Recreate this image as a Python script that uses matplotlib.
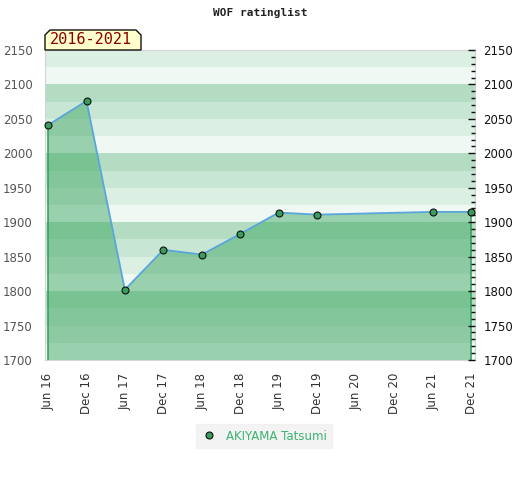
import datetime as dt
import matplotlib
matplotlib.use("Agg")
import matplotlib.pyplot as plt
import matplotlib.dates as mdates
from matplotlib.patches import Polygon
from matplotlib.lines import Line2D
from matplotlib.ticker import MultipleLocator

# data
dates = [dt.date(2016, 6, 1), dt.date(2016, 12, 1), dt.date(2017, 6, 1), dt.date(2017, 12, 1),
         dt.date(2018, 6, 1), dt.date(2018, 12, 1), dt.date(2019, 6, 1), dt.date(2019, 12, 1),
         dt.date(2021, 6, 1), dt.date(2021, 12, 1)]
ratings = [2041, 2076, 1802, 1860, 1853, 1883, 1914, 1911, 1915, 1915]
tick_dates = [dt.date(2016 + i // 2, 6 if i % 2 == 0 else 12, 1) for i in range(12)]
tick_labels = [d.strftime("%b %y") for d in tick_dates]
player = "AKIYAMA Tatsumi"
period = "2016-2021"
y_min, y_max = 1700, 2150

bg_cols = ["#eff8f2", "#dcefe3", "#c8e6d4", "#b3dcc3"]   # lowest quarter -> top quarter of each 100
fill_cols = ["#99d0ad", "#8dcaa4", "#83c69b", "#79c292"]

fig = plt.figure(figsize=(5.2, 4.8), dpi=100)
ax = fig.add_axes([45 / 520, 120 / 480, 430 / 520, 310 / 480])

x = mdates.date2num(dates)
ax.set_xlim(x[0] - 14, x[-1] + 18)
ax.set_ylim(y_min, y_max)

# banded background, darker bands under the rating line
verts = [(x[0], y_min)] + list(zip(x, ratings)) + [(x[-1], y_min)]
area = Polygon(verts, closed=True, facecolor="none", edgecolor="none")
ax.add_patch(area)
for lo in range(y_min, y_max, 25):
    q = (lo % 100) // 25
    ax.axhspan(lo, lo + 25, color=bg_cols[q], lw=0, zorder=0)
    band = ax.axhspan(lo, lo + 25, color=fill_cols[q], lw=0, zorder=1)
    band.set_clip_path(area)

ax.vlines([x[0], x[-1]], y_min, [ratings[0], ratings[-1]], color="#2ea05a", lw=1.1, zorder=2)
ax.plot(x, ratings, color="#5aa5dc", lw=1.3, zorder=3)
ax.plot(x, ratings, ls="none", marker="o", ms=5, mfc="#3a9b5c", mec="#111111", mew=0.8,
        zorder=4, clip_on=False)

for s in ["left", "bottom", "top", "right"]:
    ax.spines[s].set_color("#d4d4d4")

ax.set_xticks(mdates.date2num(tick_dates))
ax.set_xticklabels(tick_labels, rotation=90, fontsize=8.5, color="#333333")
ax.tick_params(axis="x", length=0, pad=9)
ax.yaxis.set_major_locator(MultipleLocator(50))
ax.tick_params(axis="y", length=0, labelsize=8.5, labelcolor="#555555", pad=9)

ax2 = ax.twinx()
ax2.set_ylim(y_min, y_max)
ax2.yaxis.set_major_locator(MultipleLocator(50))
ax2.yaxis.set_minor_locator(MultipleLocator(10))
ax2.tick_params(axis="y", which="major", direction="in", length=5, width=1, color="#111111",
                labelsize=8.5, labelcolor="#111111", pad=6)
ax2.tick_params(axis="y", which="minor", direction="in", length=3, width=1, color="#111111")
for s in ["left", "bottom", "top", "right"]:
    ax2.spines[s].set_visible(False)

fig.text(0.5, 1 - 13 / 480, "WOF ratinglist", ha="center", va="center",
         fontsize=8, fontweight="bold", family="DejaVu Sans Mono", color="#222222")

# period tag with cut corners
x0, x1, y0, y1, c = 45, 141, 450, 430, 5
tag = [(x0, y1), (x0, y0 - c), (x0 + c, y0), (x1 - c, y0), (x1, y0 - c), (x1, y1)]
tag = [(a / 520, b / 480) for a, b in tag]
fig.patches.append(Polygon(tag, closed=True, facecolor="#ffffcc", edgecolor="#111111",
                           lw=1, transform=fig.transFigure, zorder=5))
fig.text(91 / 520, 1 - 40 / 480, period, ha="center", va="center", fontsize=11,
         family="DejaVu Sans Mono", color="#8b0000", zorder=6)

handle = Line2D([], [], ls="none", marker="o", ms=5, mfc="#3a9b5c", mec="#111111", mew=0.8)
leg = fig.legend([handle], [player], loc="center", bbox_to_anchor=(264 / 520, 1 - 436 / 480),
                 frameon=True, fontsize=8.5, handletextpad=0.7, borderpad=0.45,
                 fancybox=False, handlelength=1.4)
leg.get_frame().set_facecolor("#f0f0f0")
leg.get_frame().set_edgecolor("#f0f0f0")
for t in leg.get_texts():
    t.set_color("#3cb371")

fig.savefig("out.png", dpi=100)
